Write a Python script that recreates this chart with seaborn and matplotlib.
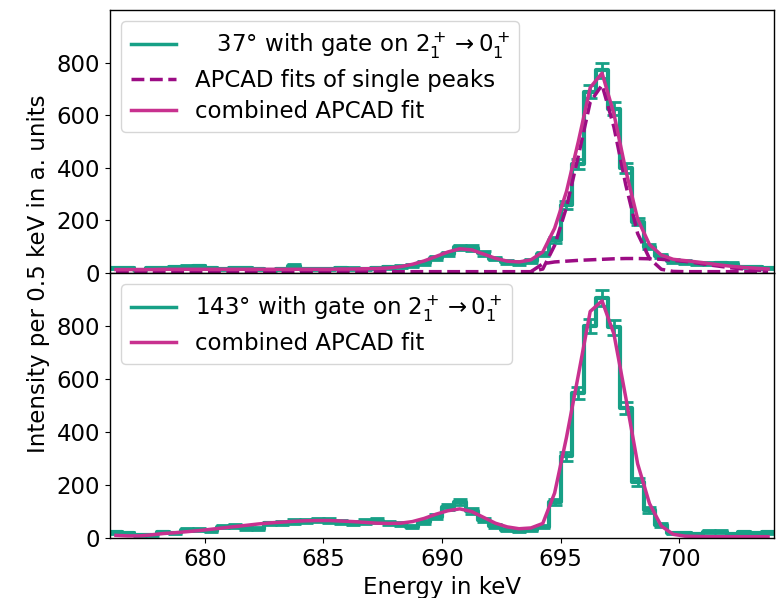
import numpy as np
import pandas as pd
import matplotlib
matplotlib.use("Agg")
import matplotlib.pyplot as plt
import seaborn as sns
from matplotlib.lines import Line2D

# ---------------- data ----------------
bin_edges = np.arange(676.0, 704.01, 0.5)          # 0.5 keV bins
energy = bin_edges[:-1] + 0.25                      # bin centres

counts_37 = [20, 18, 12, 20, 20, 22, 24, 25, 18, 15,
             19, 18, 16, 12, 15, 28, 16, 14, 15, 18,
             17, 16, 20, 22, 24, 28, 38, 58, 72, 98,
             95, 75, 55, 42, 38, 45, 72, 125, 258, 415,
             690, 770, 625, 400, 195, 100, 65, 45, 42, 37,
             35, 37, 35, 23, 22, 20]
err_37 = [4, 4, 3, 4, 4, 5, 5, 5, 4, 4,
          4, 4, 4, 3, 4, 5, 4, 4, 4, 4,
          4, 4, 4, 5, 5, 5, 6, 8, 8, 10,
          10, 9, 7, 6, 6, 7, 8, 11, 16, 20,
          26, 28, 25, 20, 14, 10, 8, 7, 6, 6,
          6, 6, 6, 5, 5, 4]
fit_37 = [13, 13, 13, 13, 14, 14, 14, 14, 14, 14,
          14, 14, 14, 14, 14, 14, 14, 14, 14, 15,
          15, 16, 17, 19, 24, 33, 46, 63, 80, 92,
          88, 72, 56, 45, 42, 50, 80, 170, 310, 500,
          705, 760, 605, 390, 205, 108, 68, 52, 47, 42,
          36, 30, 25, 21, 18, 15]
single_main_37 = [5] * 36 + [15, 105, 250, 445, 650, 715, 555, 335, 150, 55,
                             14, 6] + [5] * 8
single_broad_37 = [np.nan] * 35 + [5, 35, 42, 45, 48, 50, 52, 54, 55, 55,
                                   54, 52, 48, 44, 38, 31, 25, 19, 15, 11, 9]

counts_143 = [22, 18, 10, 12, 23, 20, 32, 32, 28, 42,
              45, 38, 35, 55, 58, 62, 64, 68, 66, 60,
              58, 62, 66, 58, 52, 42, 60, 80, 118, 135,
              102, 68, 45, 32, 28, 30, 43, 137, 308, 548,
              800, 905, 795, 490, 213, 106, 49, 18, 20, 16,
              24, 24, 16, 22, 18, 22]
err_143 = [5, 4, 3, 3, 5, 4, 6, 6, 5, 6,
           7, 6, 6, 7, 8, 8, 8, 8, 8, 8,
           8, 8, 8, 8, 7, 6, 8, 9, 11, 12,
           10, 8, 7, 6, 5, 5, 7, 12, 18, 23,
           28, 30, 28, 22, 15, 10, 7, 4, 4, 4,
           5, 5, 4, 5, 4, 5]
fit_143 = [10, 8, 8, 12, 17, 20, 24, 28, 33, 38,
           43, 48, 53, 57, 60, 63, 65, 66, 66, 64,
           62, 59, 56, 55, 56, 62, 74, 90, 103, 110,
           100, 78, 56, 42, 35, 38, 55, 170, 380, 615,
           855, 895, 770, 530, 280, 130, 45, 14, 7, 6,
           5, 5, 5, 5, 5, 5]

label_37 = r"   37° with gate on $2_1^+ \rightarrow 0_1^+$"
label_143 = r"143° with gate on $2_1^+ \rightarrow 0_1^+$"
label_single = "APCAD fits of single peaks"
label_comb = "combined APCAD fit"
yticks = [0, 200, 400, 600, 800]
xticks = [680, 685, 690, 695, 700]

# ---------------- style ----------------
TEAL = "#17a086"
MAG = "#c8318f"
PURP = "#9c0c84"
FS = 16.5
plt.rcParams["font.size"] = FS

fig = plt.figure(figsize=(7.76, 5.98), dpi=100)
ax1 = fig.add_axes([0.1418, 0.5435, 0.8556, 0.4398])
ax2 = fig.add_axes([0.1418, 0.1003, 0.8556, 0.4432], sharex=ax1)


def draw_data(ax, counts, err):
    d = pd.DataFrame({"E": energy, "w": np.asarray(counts, dtype=float)})
    sns.histplot(data=d, x="E", weights="w", binwidth=0.5, binrange=(676.0, 704.0),
                 element="step", fill=False, color=TEAL, lw=3, ax=ax)
    ax.errorbar(energy, counts, yerr=err, fmt="none", ecolor=TEAL,
                elinewidth=2, capsize=5, capthick=2)


draw_data(ax1, counts_37, err_37)
df_top = pd.DataFrame({"E": energy, "fit": fit_37, "a": single_main_37,
                       "b": single_broad_37})
sns.lineplot(data=df_top, x="E", y="a", color=PURP, lw=2.5, ls="--", ax=ax1)
sns.lineplot(data=df_top.dropna(), x="E", y="b", color=PURP, lw=2.5, ls="--", ax=ax1)
sns.lineplot(data=df_top, x="E", y="fit", color=MAG, lw=2.5, ax=ax1)

draw_data(ax2, counts_143, err_143)
df_bot = pd.DataFrame({"E": energy, "fit": fit_143})
sns.lineplot(data=df_bot, x="E", y="fit", color=MAG, lw=2.5, ax=ax2)

for ax in (ax1, ax2):
    ax.set_xlim(676, 704)
    ax.set_ylim(0, 1000)
    ax.set_yticks(yticks)
    ax.set_ylabel("")
    ax.set_xlabel("")
    ax.tick_params(labelsize=FS)
    for s in ax.spines.values():
        s.set_linewidth(1.0)

ax1.tick_params(axis="x", bottom=False, labelbottom=False)
ax2.set_xticks(xticks)
ax2.set_xlabel("Energy in keV", fontsize=FS)
fig.text(0.049, 0.542, "Intensity per 0.5 keV in a. units", rotation=90,
         ha="center", va="center", fontsize=FS)

h_data = Line2D([], [], color=TEAL, lw=2.5)
h_single = Line2D([], [], color=PURP, lw=2.5, ls="--")
h_comb = Line2D([], [], color=MAG, lw=2.5)
ax1.legend([h_data, h_single, h_comb], [label_37, label_single, label_comb],
           loc="upper left", fontsize=FS, labelspacing=0.35)
ax2.legend([h_data, h_comb], [label_143, label_comb],
           loc="upper left", fontsize=FS, labelspacing=0.35)

fig.savefig("out.png", dpi=100)
